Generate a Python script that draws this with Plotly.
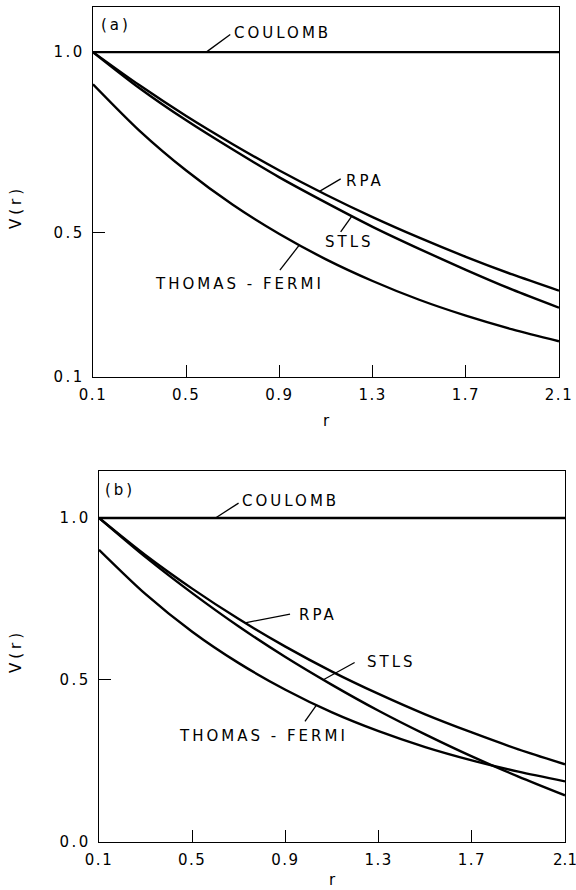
import numpy as np
import plotly.graph_objects as go

# ---- data ----
r = [0.1, 0.3, 0.5, 0.7, 0.9, 1.1, 1.3, 1.5, 1.7, 1.9, 2.1]
coulomb = [1.0] * len(r)
# panel (a)
rpa_a = [1.000, 0.908, 0.823, 0.745, 0.672, 0.605, 0.543, 0.486, 0.433, 0.384, 0.339]
stls_a = [1.000, 0.900, 0.811, 0.730, 0.653, 0.583, 0.516, 0.455, 0.397, 0.342, 0.292]
tf_a = [0.911, 0.782, 0.672, 0.577, 0.496, 0.426, 0.366, 0.314, 0.270, 0.232, 0.199]
# panel (b)
rpa_b = [1.000, 0.885, 0.782, 0.688, 0.603, 0.526, 0.457, 0.394, 0.338, 0.286, 0.240]
stls_b = [1.000, 0.879, 0.768, 0.665, 0.571, 0.485, 0.405, 0.332, 0.264, 0.202, 0.144]
tf_b = [0.902, 0.765, 0.649, 0.552, 0.470, 0.400, 0.342, 0.293, 0.252, 0.217, 0.187]

x_ticks = [0.1, 0.5, 0.9, 1.3, 1.7, 2.1]
x_ticktext = ["0.1", "0.5", "0.9", "1.3", "1.7", "2.1"]
ya_ticks = [0.1, 0.5, 1.0]
ya_ticktext = ["0.1", "0.5", "1.0"]
yb_ticks = [0.0, 0.5, 1.0]
yb_ticktext = ["0.0", "0.5", "1.0"]

FONT = "DejaVu Sans"
W, H = 576, 890

fig = go.Figure()

def add_curves(xa, ya, series):
    for ys in series:
        fig.add_trace(go.Scatter(x=r, y=ys, mode="lines", xaxis=xa, yaxis=ya,
                                 line=dict(color="black", width=2.4, shape="spline", smoothing=0.8),
                                 showlegend=False, hoverinfo="skip"))

add_curves("x", "y", [coulomb, rpa_a, stls_a, tf_a])
add_curves("x2", "y2", [coulomb, rpa_b, stls_b, tf_b])

def spaced(t, sp=2):
    return f'<span style="letter-spacing:{sp}px">{t}</span>'

axis_common = dict(showline=True, linewidth=1.4, linecolor="black", mirror=True,
                   showgrid=False, zeroline=False, ticks="inside", ticklen=12,
                   tickwidth=1.4, tickcolor="black", automargin=False,
                   ticklabeloverflow="allow",
                   tickfont=dict(family=FONT, size=15, color="black"))

xa_text = [spaced(t, 1.5) for t in x_ticktext]
# last label of the lower panel sits at the page edge: tighter spacing
xb_text = [spaced(t, 1.5) for t in x_ticktext[:-1]] + [spaced(x_ticktext[-1], 0)]

fig.update_layout(
    template="none",
    width=W, height=H, margin=dict(l=0, r=0, t=0, b=0, pad=0, autoexpand=False),
    paper_bgcolor="white", plot_bgcolor="white",
    xaxis=dict(domain=[93 / W, 559 / W], anchor="y", range=[0.1, 2.1],
               tickvals=x_ticks, ticktext=xa_text,
               ticklabelstandoff=4, **axis_common),
    yaxis=dict(domain=[1 - 377 / H, 1 - 7 / H], anchor="x", range=[0.1, 1.125],
               tickvals=ya_ticks, ticktext=[spaced(t, 2.5) for t in ya_ticktext],
               ticklabelstandoff=4, **axis_common),
    xaxis2=dict(domain=[99 / W, 565 / W], anchor="y2", range=[0.1, 2.1],
                tickvals=x_ticks, ticktext=xb_text,
                ticklabelstandoff=4, **axis_common),
    yaxis2=dict(domain=[1 - 842 / H, 1 - 471 / H], anchor="x2", range=[0.0, 1.145],
                tickvals=yb_ticks, ticktext=[spaced(t, 2.5) for t in yb_ticktext],
                ticklabelstandoff=4, **axis_common),
)

annotations = []
shapes = []

def label(xr, yr, text, x, y):
    annotations.append(dict(xref=xr, yref=yr, x=x, y=y, text=spaced(text, 3),
                            showarrow=False, xanchor="center", yanchor="middle",
                            font=dict(family=FONT, size=15, color="black")))

def pointer(xr, yr, curve, x0, x1, y1):
    y0 = float(np.interp(x0, r, curve))
    shapes.append(dict(type="line", xref=xr, yref=yr, x0=x0, y0=y0, x1=x1, y1=y1,
                       line=dict(color="black", width=1.3)))

# panel (a) labels
label("x", "y", "(a)", 0.198, 1.076)
label("x", "y", "COULOMB", 0.913, 1.053)
pointer("x", "y", coulomb, 0.586, 0.689, 1.049)
label("x", "y", "RPA", 1.269, 0.642)
pointer("x", "y", rpa_a, 1.072, 1.163, 0.649)
label("x", "y", "STLS", 1.201, 0.474)
pointer("x", "y", stls_a, 1.211, 1.163, 0.502)
label("x", "y", "THOMAS - FERMI", 0.727, 0.359)
pointer("x", "y", tf_a, 0.986, 0.902, 0.396)

# panel (b) labels
label("x2", "y2", "(b)", 0.192, 1.086)
label("x2", "y2", "COULOMB", 0.922, 1.051)
pointer("x2", "y2", coulomb, 0.600, 0.699, 1.046)
label("x2", "y2", "RPA", 1.042, 0.701)
pointer("x2", "y2", rpa_b, 0.727, 0.920, 0.703)
label("x2", "y2", "STLS", 1.354, 0.557)
pointer("x2", "y2", stls_b, 1.063, 1.197, 0.554)
label("x2", "y2", "THOMAS - FERMI", 0.805, 0.326)
pointer("x2", "y2", tf_b, 1.034, 0.984, 0.372)

# axis titles
for (px, py) in [(16, 207), (16, 651)]:
    annotations.append(dict(xref="paper", yref="paper", x=px / W, y=1 - py / H,
                            text=spaced("V(r)", 4), textangle=-90, showarrow=False,
                            xanchor="center", yanchor="middle",
                            font=dict(family=FONT, size=15, color="black")))
for (px, py) in [(326, 421), (332, 880)]:
    annotations.append(dict(xref="paper", yref="paper", x=px / W, y=1 - py / H,
                            text="r", showarrow=False, xanchor="center", yanchor="middle",
                            font=dict(family=FONT, size=15, color="black")))

fig.update_layout(annotations=annotations, shapes=shapes)
fig.write_html("out.html", config={"displayModeBar": False},
               post_script="document.body.style.margin='0';document.body.style.padding='0';")
